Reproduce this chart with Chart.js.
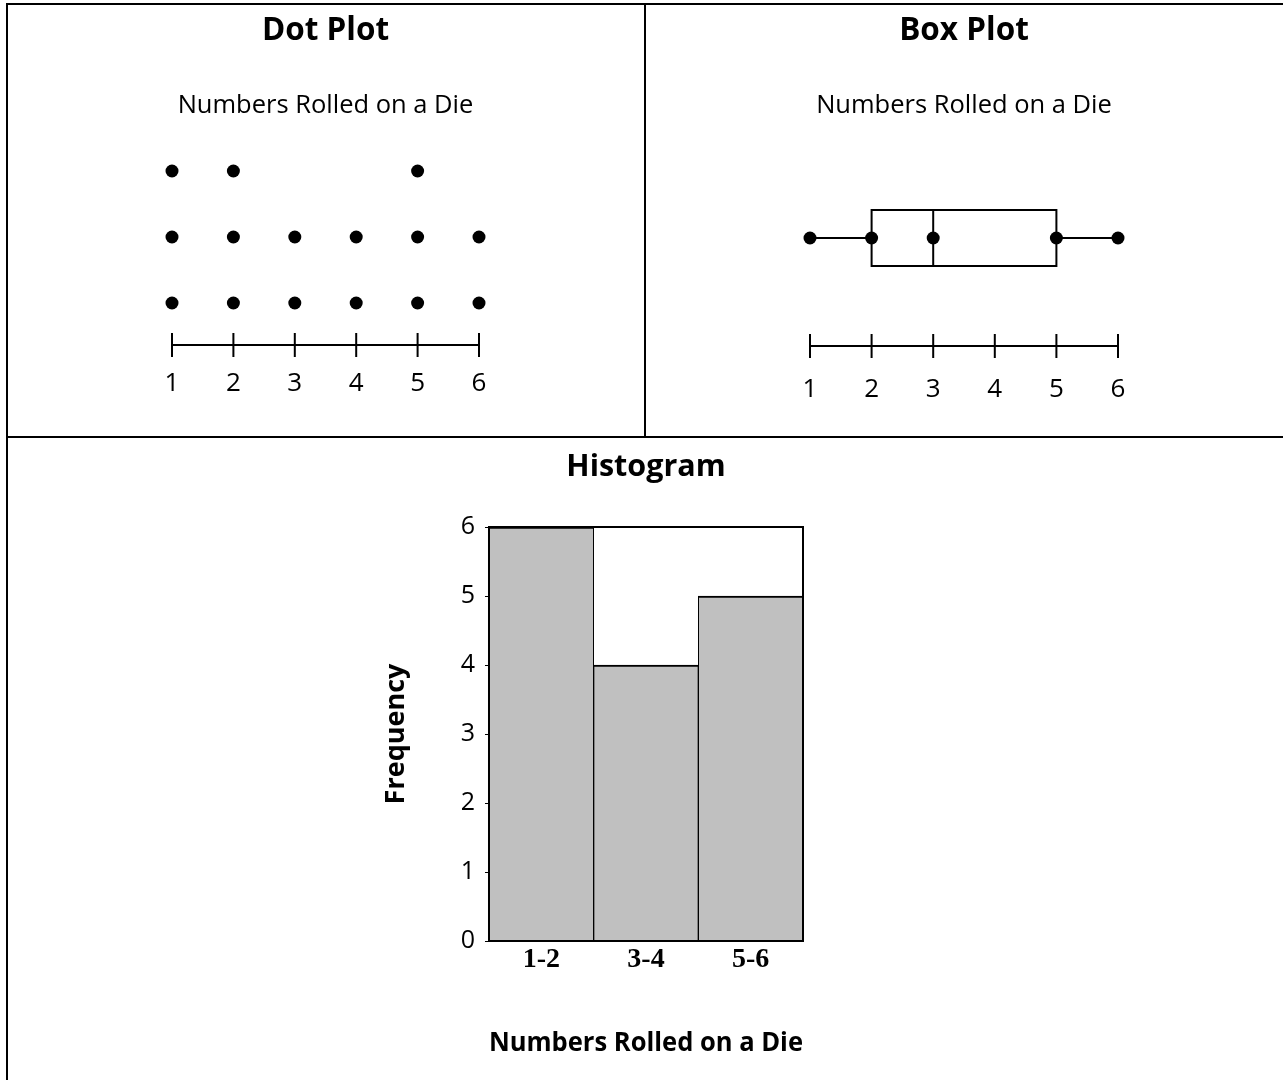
<!doctype html>
<html>

<head>
  <title>Numbers Rolled on a Die</title>
  <script src="https://cdn.jsdelivr.net/npm/chart.js@4.4.1/dist/chart.umd.min.js"></script>
  <style>
    body {
      margin: 0;
      background: #fff;
    }
    .rule {
      position: absolute;
      background: #000;
    }
    canvas {
      position: absolute;
    }
  </style>
</head>

<body>
  <div class="rule" style="left:6px;top:3px;width:1277px;height:2px"></div>
  <div class="rule" style="left:6px;top:3px;width:2px;height:1077px"></div>
  <div class="rule" style="left:644px;top:3px;width:2px;height:434px"></div>
  <div class="rule" style="left:6px;top:436px;width:1277px;height:2px"></div>

  <canvas id="dotChart" width="636" height="431" style="left:8px;top:5px"></canvas>
  <canvas id="boxChart" width="637" height="431" style="left:646px;top:5px"></canvas>
  <canvas id="histChart" width="1275" height="642" style="left:8px;top:438px"></canvas>

  <script>
    // die faces and how often each one came up
    var dieFaces = [1, 2, 3, 4, 5, 6];
    var dotCounts = [3, 3, 2, 2, 3, 2];

    // min, Q1, median, Q3, max
    var fiveNumber = [1, 2, 3, 5, 6];

    var histBins = ['1-2', '3-4', '5-6'];
    var histFreq = [6, 4, 5];

    var FONT = "'Open Sans', sans-serif";
    Chart.defaults.color = '#000';
    Chart.defaults.font.family = FONT;

    // number line drawn under the chart area with the x scale
    var numberLine = {
      id: 'numberLine',
      afterDatasetsDraw: function(chart, args, opts) {
        var x = chart.scales.x;
        var ctx = chart.ctx;
        var ticks = opts.values;
        var a = x.getPixelForValue(ticks[0]);
        var b = x.getPixelForValue(ticks[ticks.length - 1]);
        ctx.save();
        ctx.strokeStyle = '#000';
        ctx.lineWidth = 2;
        ctx.beginPath();
        ctx.moveTo(a, opts.y);
        ctx.lineTo(b, opts.y);
        ticks.forEach(function(v) {
          var p = x.getPixelForValue(v);
          ctx.moveTo(p, opts.y - opts.half);
          ctx.lineTo(p, opts.y + opts.half);
        });
        ctx.stroke();
        ctx.fillStyle = '#000';
        ctx.font = '26px ' + FONT;
        ctx.textAlign = 'center';
        ctx.textBaseline = 'middle';
        ticks.forEach(function(v) {
          ctx.fillText(String(v), x.getPixelForValue(v), opts.labelY);
        });
        ctx.restore();
      }
    };

    // the box between Q1 and Q3 with the median line
    var boxShape = {
      id: 'boxShape',
      beforeDatasetsDraw: function(chart) {
        var x = chart.scales.x, y = chart.scales.y;
        var ctx = chart.ctx;
        var l = x.getPixelForValue(fiveNumber[1]);
        var m = x.getPixelForValue(fiveNumber[2]);
        var r = x.getPixelForValue(fiveNumber[3]);
        var t = y.getPixelForValue(1);
        var bt = y.getPixelForValue(-1);
        ctx.save();
        ctx.strokeStyle = '#000';
        ctx.lineWidth = 2;
        ctx.strokeRect(l, t, r - l, bt - t);
        ctx.beginPath();
        ctx.moveTo(m, t);
        ctx.lineTo(m, bt);
        ctx.stroke();
        ctx.restore();
      }
    };

    // frame round the histogram plot area
    var frame = {
      id: 'frame',
      afterDatasetsDraw: function(chart) {
        var a = chart.chartArea;
        var ctx = chart.ctx;
        ctx.save();
        ctx.strokeStyle = '#000';
        ctx.lineWidth = 2;
        ctx.strokeRect(a.left, a.top, a.right - a.left, a.bottom - a.top);
        ctx.restore();
      }
    };

    function cellTitles(title, gapBelow) {
      return {
        title: {
          display: true,
          text: title,
          font: { size: 31.5, weight: 'bold', lineHeight: 1.2 },
          padding: { top: 7.1, bottom: 40.8 }
        },
        subtitle: {
          display: true,
          text: 'Numbers Rolled on a Die',
          font: { size: 25.5, lineHeight: 1.2 },
          padding: { top: 0, bottom: gapBelow }
        },
        legend: { display: false },
        tooltip: { enabled: false }
      };
    }

    var dots = [];
    dieFaces.forEach(function(face, i) {
      for (var k = 1; k <= dotCounts[i]; k++) {
        dots.push({ x: face, y: k });
      }
    });

    var dotPlugins = cellTitles('Dot Plot', 49.7);
    dotPlugins.numberLine = { values: dieFaces, y: 340, half: 12, labelY: 379 };

    new Chart(document.getElementById('dotChart'), {
      type: 'scatter',
      data: {
        datasets: [{
          data: dots,
          pointRadius: 6.5,
          pointBackgroundColor: '#000',
          pointBorderWidth: 0,
          clip: false
        }]
      },
      options: {
        responsive: false,
        animation: false,
        layout: { padding: { left: 164, right: 165, top: 0, bottom: 133 } },
        scales: {
          x: { type: 'linear', min: 1, max: 6, display: false },
          y: { type: 'linear', min: 1, max: 3, display: false }
        },
        plugins: dotPlugins
      },
      plugins: [numberLine]
    });

    var boxPlugins = cellTitles('Box Plot', 88.7);
    boxPlugins.numberLine = { values: dieFaces, y: 341, half: 12, labelY: 385 };

    new Chart(document.getElementById('boxChart'), {
      type: 'scatter',
      data: {
        datasets: [{
          type: 'line',
          data: [
            { x: fiveNumber[0], y: 0 }, { x: fiveNumber[1], y: 0 },
            { x: fiveNumber[2], y: null },
            { x: fiveNumber[3], y: 0 }, { x: fiveNumber[4], y: 0 }
          ],
          borderColor: '#000',
          borderWidth: 2,
          pointRadius: 0,
          spanGaps: false,
          clip: false
        }, {
          data: fiveNumber.map(function(v) { return { x: v, y: 0 }; }),
          pointRadius: 6.5,
          pointBackgroundColor: '#000',
          pointBorderWidth: 0,
          clip: false
        }]
      },
      options: {
        responsive: false,
        animation: false,
        layout: { padding: { left: 164, right: 165, top: 0, bottom: 170 } },
        scales: {
          x: { type: 'linear', min: 1, max: 6, display: false },
          y: { type: 'linear', min: -1, max: 1, display: false }
        },
        plugins: boxPlugins
      },
      plugins: [numberLine, boxShape]
    });

    new Chart(document.getElementById('histChart'), {
      type: 'bar',
      data: {
        labels: histBins,
        datasets: [{
          data: histFreq,
          backgroundColor: '#c0c0c0',
          borderColor: '#000',
          borderWidth: { top: 2, left: 1, right: 1, bottom: 0 },
          borderSkipped: false,
          barPercentage: 1,
          categoryPercentage: 1
        }]
      },
      options: {
        responsive: false,
        animation: false,
        layout: { padding: { left: 372.6, right: 480, top: 0, bottom: 20.8 } },
        scales: {
          x: {
            grid: { display: false, drawTicks: false },
            border: { display: true, color: '#000', width: 2 },
            ticks: {
              padding: 2,
              font: { family: "'Liberation Serif', serif", size: 28, weight: 'bold', lineHeight: 1.2 }
            },
            title: {
              display: true,
              text: 'Numbers Rolled on a Die',
              font: { size: 27, weight: 'bold', lineHeight: 1.2 },
              padding: { top: 48.2, bottom: 0 }
            }
          },
          y: {
            min: 0,
            max: 6,
            grid: { drawOnChartArea: false, drawTicks: true, tickLength: 4, color: '#000' },
            border: { display: true, color: '#000', width: 2 },
            ticks: {
              stepSize: 1,
              padding: 10,
              font: { size: 25, lineHeight: 1.2 }
            },
            title: {
              display: true,
              text: 'Frequency',
              font: { size: 27, weight: 'bold', lineHeight: 1.2 },
              padding: { top: 0, bottom: 37.7 }
            }
          }
        },
        plugins: {
          title: {
            display: true,
            fullSize: false,
            text: 'Histogram',
            font: { size: 30.5, weight: 'bold', lineHeight: 1.2 },
            padding: { top: 10.7, bottom: 41.7 }
          },
          legend: { display: false },
          tooltip: { enabled: false }
        }
      },
      plugins: [frame]
    });
  </script>
</body>

</html>
